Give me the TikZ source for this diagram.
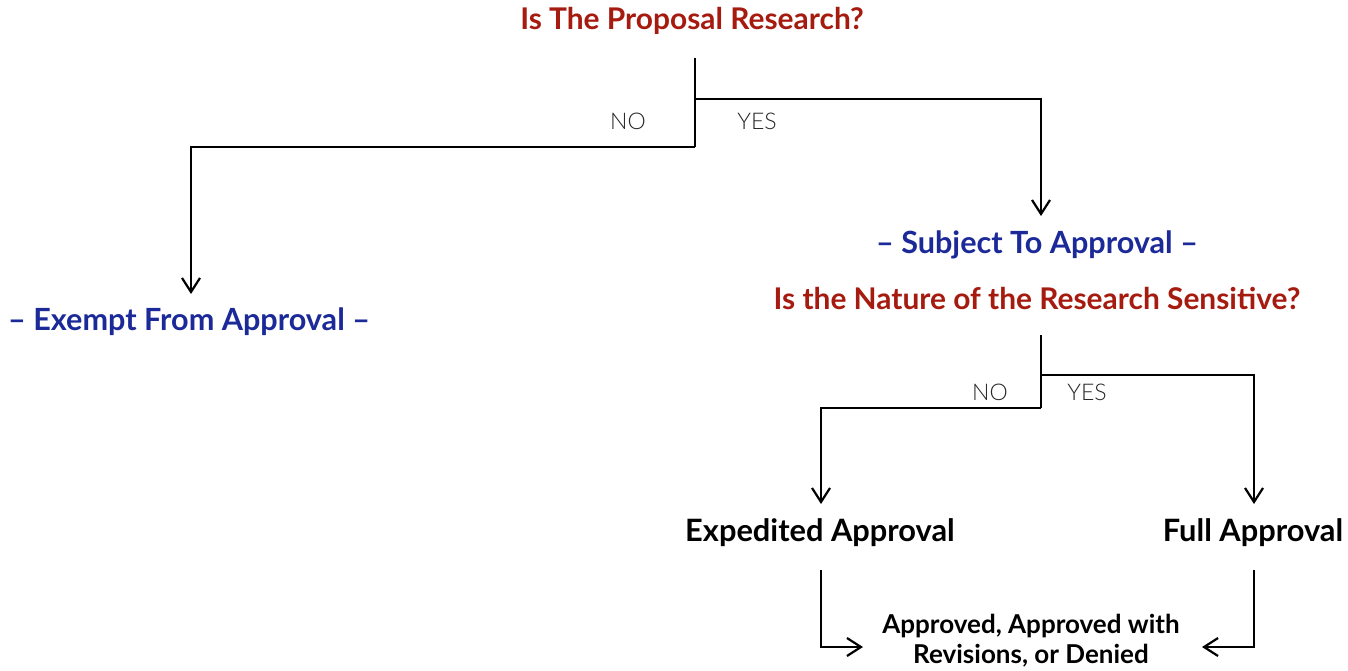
\documentclass[tikz,border=0pt]{standalone}
\usepackage{fontspec}
\setmainfont{Lato}
\newfontfamily\lightfont{Lato Light}
\usetikzlibrary{arrows.meta}
\definecolor{qred}{HTML}{A61B10}
\definecolor{qblue}{HTML}{1B2A98}
\begin{document}
\begin{tikzpicture}[x=1pt,y=-1pt,
  conn/.style={line width=2.2pt},
  arr/.style={line width=2.2pt,-{Straight Barb[length=14pt,width=18pt,line width=2.2pt]}},
  question/.style={inner sep=0pt,text=qred,font=\fontsize{29.9}{32}\selectfont\bfseries},
  status/.style={inner sep=0pt,text=qblue,font=\fontsize{30.6}{32}\selectfont\bfseries},
  outcome/.style={inner sep=0pt,text=black,font=\fontsize{30.8}{32}\selectfont\bfseries},
  final/.style={inner sep=0pt,text=black,font=\fontsize{26}{30}\selectfont\bfseries,align=center},
  answer/.style={inner sep=0pt,text=black!85,font=\fontsize{23}{26}\selectfont\lightfont}]
\useasboundingbox (0,0) rectangle (1348,670);
\node[question] (q1) at (692,21) {Is The Proposal Research?};
\coordinate (q1s) at (695,58);
\coordinate (q1b) at (695,99);
\coordinate (q1n) at (695,147);
\node[answer] (no1) at (628,121) {NO};
\node[answer] (yes1) at (757,121) {YES};
\node[status] (exempt) at (189,322) {– Exempt From Approval –};
\node[status] (subj) at (1037,245) {– Subject To Approval –};
\node[question] (q2) at (1037,298) {Is the Nature of the Research Sensitive?};
\coordinate (q2s) at (1041,335);
\coordinate (q2b) at (1041,375);
\coordinate (q2n) at (1041,408);
\node[answer] (no2) at (990,392) {NO};
\node[answer] (yes2) at (1087,392) {YES};
\node[outcome] (exp) at (820,533) {Expedited Approval};
\node[outcome] (full) at (1253,533) {Full Approval};
\node[final] (res) at (1031,641) {Approved, Approved with\\Revisions, or Denied};
\coordinate (expb) at (821,570);
\coordinate (fullb) at (1254,570);
% connectors
\draw[conn] (q1s) -- (q1n);
\draw[arr] (q1b) -- (1041,99) -- (1041,216);
\draw[arr] (q1n) -- (191,147) -- (191,294);
\draw[conn] (q2s) -- (q2n);
\draw[arr] (q2b) -- (1254,375) -- (1254,504);
\draw[arr] (q2n) -- (821,408) -- (821,504);
\draw[arr] (expb) -- (821,647) -- (863,647);
\draw[arr] (fullb) -- (1254,647) -- (1202,647);
\end{tikzpicture}
\end{document}
